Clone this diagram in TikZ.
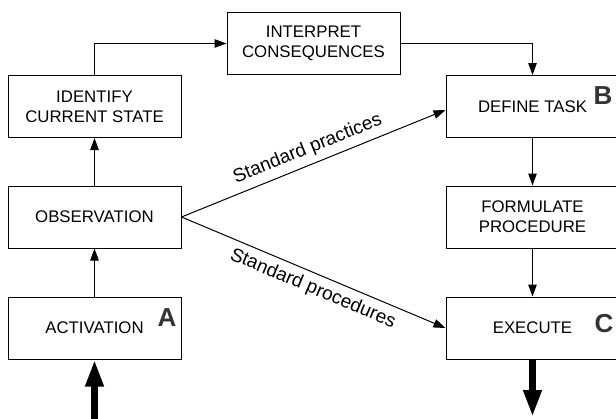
\documentclass[tikz,border=0pt]{standalone}
\usepackage{fontspec}
\setmainfont{Liberation Sans}
\usetikzlibrary{arrows.meta}

\tikzset{
  stagebox/.style={draw=black, line width=1pt, minimum width=173pt, minimum height=62pt,
    inner sep=0pt, align=center, font=\fontsize{16.8}{20}\selectfont},
  conn/.style={draw=black, line width=1pt, -{Triangle[length=12pt,width=8.5pt]}},
  bigflow/.style={draw=black, line width=7pt, -{Triangle[length=27pt,width=17pt]}},
  edgelabel/.style={font=\fontsize{19}{21}\selectfont, sloped, inner sep=0pt},
  marker/.style={font=\fontsize{26}{26}\selectfont\bfseries, text=black!80, inner sep=0pt}
}

\begin{document}
\begin{tikzpicture}[x=1pt, y=-1pt]
  \useasboundingbox (0,0) rectangle (616,418);

  % left column
  \node[stagebox] (ident)  at (94.5,106.5) {IDENTIFY\\CURRENT STATE};
  \node[stagebox] (obs)    at (94.5,217)   {OBSERVATION};
  \node[stagebox] (act)    at (94.5,328)   {ACTIVATION};
  % top
  \node[stagebox] (interp) at (313.5,43.5) {INTERPRET\\CONSEQUENCES};
  % right column
  \node[stagebox] (define) at (532.5,106.5) {DEFINE TASK};
  \node[stagebox] (formul) at (532.5,217)   {FORMULATE\\PROCEDURE};
  \node[stagebox] (exec)   at (532.5,328)   {EXECUTE};

  % corner letters
  \node[marker] (la) at (167,318) {A};
  \node[marker] (lb) at (603,96)  {B};
  \node[marker] (lc) at (604,324) {C};

  % flow
  \draw[conn] (act.north) -- (obs.south);
  \draw[conn] (obs.north) -- (ident.south);
  \draw[conn] (ident.north) |- (interp.west);
  \draw[conn] (interp.east) -| (define.north);
  \draw[conn] (define.south) -- (formul.north);
  \draw[conn] (formul.south) -- (exec.north);

  \draw[conn] (obs.east) -- ([yshift=-3.5pt]define.west)
    node[edgelabel, pos=0.5, above=6pt] {Standard practices};
  \draw[conn] (obs.east) -- (exec.west)
    node[edgelabel, pos=0.52, below=6pt] {Standard procedures};

  % entry and exit
  \coordinate (inlet)  at (94.5,421);
  \coordinate (outlet) at (532.5,417);
  \draw[bigflow] (inlet) -- (act.south);
  \draw[bigflow] (exec.south) -- (outlet);
\end{tikzpicture}
\end{document}
